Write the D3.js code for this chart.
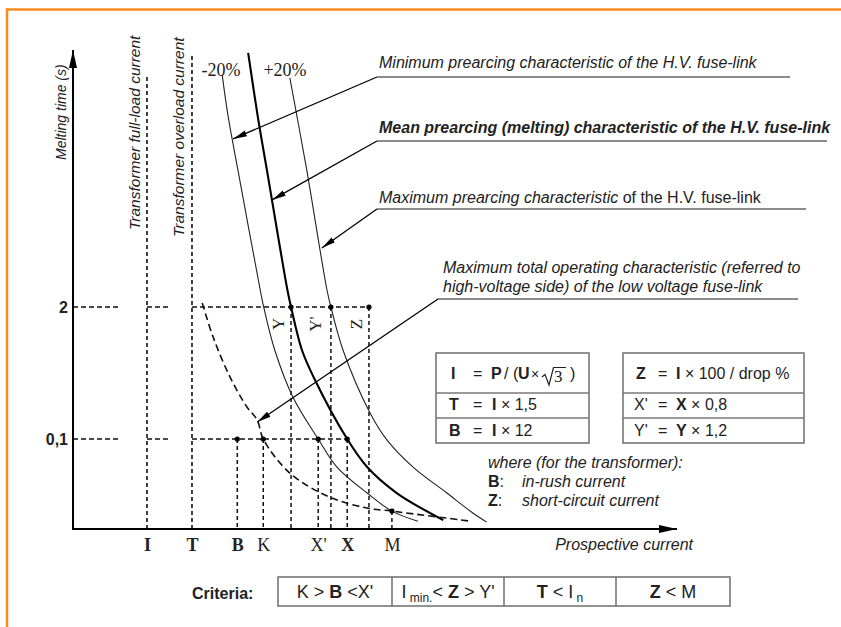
<!DOCTYPE html>
<html>
<head>
<meta charset="utf-8">
<script src="https://cdn.jsdelivr.net/npm/d3@7"></script>
<style>
  html, body { margin: 0; padding: 0; background: #fff; }
  svg { display: block; }
  text { font-family: "Liberation Sans", Arial, sans-serif; fill: #222; }
  .serif { font-family: "Liberation Serif", "Times New Roman", serif; }
</style>
</head>
<body>
<svg id="chart" width="841" height="627"></svg>
<script>
// ---------------- data ----------------
// Prospective current (relative units) of the marked points on the current axis
const currentLabels = ["I", "T", "B", "K", "X'", "X", "M"];
const currentValues = [12.25, 19.7, 27.2, 31.5, 40.6, 45.4, 52.8];
const currentBold   = [true, true, true, false, false, true, false];

// Melting-time ticks (seconds)
const timeTicks      = [2, 0.1];
const timeTickLabels = ["2", "0,1"];

// Currents read at 2 s
const yCurrent = 36.1, yPrimeCurrent = 42.7, zCurrent = 49.0;
// Time at which the LV characteristic crosses the minimum prearcing curve (point M)
const mTime = 0.0195;

// Minimum prearcing characteristic (-20 %)
const minCurrent = [24.7, 25.7, 27.3, 31.0, 31.5, 33.4, 36.4, 40.6, 43.7, 48.7, 52.8, 57.1];
const minTime    = [387, 149, 44.8, 2.94, 2.09, 0.754, 0.26, 0.1, 0.053, 0.0294, 0.0195, 0.0155];

// Mean prearcing (melting) characteristic
const meanCurrent = [29.0, 30.6, 32.1, 35.5, 36.1, 37.9, 39.9, 45.4, 48.7, 53.6, 61.3];
const meanTime    = [637, 149, 44.8, 2.94, 2, 0.754, 0.40, 0.1, 0.053, 0.0294, 0.0159];

// Maximum prearcing characteristic (+20 %)
const maxCurrent = [35.9, 37.1, 38.7, 42.05, 42.7, 44.7, 49.2, 52.0, 56.3, 61.9, 66.2, 68.5];
const maxTime    = [361, 149, 44.8, 2.94, 2, 0.754, 0.18, 0.0977, 0.053, 0.0294, 0.0187, 0.0152];

// Maximum total operating characteristic of the LV fuse-link (referred to HV side)
const lvCurrent = [21.4, 23.2, 26.0, 28.8, 30.5, 31.5, 35.9, 42.5, 48.7, 52.8, 65.7];
const lvTime    = [2.19, 1.01, 0.408, 0.207, 0.154, 0.1, 0.0462, 0.0268, 0.0209, 0.0195, 0.01555];

// ---------------- setup ----------------
const W = 841, H = 627;
const svg = d3.select("#chart");

const x = d3.scaleLinear().domain([0, 100]).range([73, 677]);
const y = d3.scaleLog().domain([0.013, 680]).range([529, 50]);

const zip = (a, b) => a.map((v, i) => [v, b[i]]);
const cur = lbl => currentValues[currentLabels.indexOf(lbl)];

const defs = svg.append("defs");
defs.append("marker")
  .attr("id", "axisHead").attr("viewBox", "0 -5 18 10")
  .attr("refX", 18).attr("refY", 0)
  .attr("markerWidth", 18).attr("markerHeight", 10)
  .attr("markerUnits", "userSpaceOnUse").attr("orient", "auto")
  .append("path").attr("d", "M0,-4L18,0L0,4Z").attr("fill", "#000");
defs.append("marker")
  .attr("id", "leaderHead").attr("viewBox", "0 -4 14 8")
  .attr("refX", 14).attr("refY", 0)
  .attr("markerWidth", 14).attr("markerHeight", 8)
  .attr("markerUnits", "userSpaceOnUse").attr("orient", "auto")
  .append("path").attr("d", "M0,-3L14,0L0,3Z").attr("fill", "#000");

// page frame
svg.append("line").attr("x1", 7).attr("y1", 9.5).attr("x2", W).attr("y2", 9.5)
  .attr("stroke", "#f98a1f").attr("stroke-width", 2.5);
svg.append("line").attr("x1", 7).attr("y1", 8.3).attr("x2", 7).attr("y2", H)
  .attr("stroke", "#f98a1f").attr("stroke-width", 2.5);

// ---------------- reference (dashed) lines ----------------
const guide = svg.append("g").attr("fill", "none").attr("stroke", "#111");

// full-height lines at I and T
guide.append("line").attr("x1", x(cur("I"))).attr("x2", x(cur("I")))
  .attr("y1", y(0.013)).attr("y2", y(369))
  .attr("stroke-width", 1.6).attr("stroke-dasharray", "4,3");
guide.append("line").attr("x1", x(cur("T"))).attr("x2", x(cur("T")))
  .attr("y1", y(0.013)).attr("y2", y(635))
  .attr("stroke-width", 1.6).attr("stroke-dasharray", "4,3");

// horizontal lines at 2 s and 0,1 s (broken before I and T)
function hLine(t, xEnd) {
  const segs = [[0, 7.8], [cur("I"), cur("I") + 3.5], [cur("T"), xEnd]];
  segs.forEach(s => guide.append("line")
    .attr("x1", x(s[0])).attr("x2", x(s[1])).attr("y1", y(t)).attr("y2", y(t))
    .attr("stroke-width", 1.5).attr("stroke-dasharray", "5,3"));
}
hLine(2, zCurrent);
hLine(0.1, cur("X"));

// verticals dropping from the marked points
const drops = [
  [cur("B"), 0.1], [cur("K"), 0.1], [cur("X'"), 0.1], [cur("X"), 0.1],
  [yCurrent, 2], [yPrimeCurrent, 2], [zCurrent, 2], [cur("M"), mTime]
];
drops.forEach(d => guide.append("line")
  .attr("x1", x(d[0])).attr("x2", x(d[0])).attr("y1", y(d[1])).attr("y2", y(0.013))
  .attr("stroke-width", 1.5).attr("stroke-dasharray", "4,3"));

// ---------------- characteristics ----------------
const line = d3.line().x(d => x(d[0])).y(d => y(d[1])).curve(d3.curveCatmullRom.alpha(0.5));
const curves = svg.append("g").attr("fill", "none");
curves.append("path").attr("d", line(zip(minCurrent, minTime))).attr("stroke", "#222").attr("stroke-width", 1.1);
curves.append("path").attr("d", line(zip(maxCurrent, maxTime))).attr("stroke", "#222").attr("stroke-width", 1.1);
curves.append("path").attr("d", line(zip(meanCurrent, meanTime))).attr("stroke", "#000").attr("stroke-width", 2.1);
curves.append("path").attr("d", line(zip(lvCurrent, lvTime))).attr("stroke", "#111")
  .attr("stroke-width", 1.6).attr("stroke-dasharray", "7,4");

// marked points
svg.append("g").selectAll("circle").data(drops).join("circle")
  .attr("cx", d => x(d[0])).attr("cy", d => y(d[1])).attr("r", 2.6).attr("fill", "#000");

// ---------------- axes ----------------
svg.append("line").attr("x1", x(0)).attr("x2", x(0)).attr("y1", y(0.013)).attr("y2", y(680))
  .attr("stroke", "#000").attr("stroke-width", 2).attr("marker-end", "url(#axisHead)");
svg.append("line").attr("x1", x(0) - 1).attr("x2", x(100)).attr("y1", y(0.013)).attr("y2", y(0.013))
  .attr("stroke", "#000").attr("stroke-width", 2.2).attr("marker-end", "url(#axisHead)");

const yAxis = svg.append("g").attr("transform", `translate(${x(0)},0)`)
  .call(d3.axisLeft(y).tickValues(timeTicks).tickSize(0).tickPadding(5)
    .tickFormat((d, i) => timeTickLabels[i]));
yAxis.select(".domain").remove();
yAxis.selectAll("text").attr("font-size", 16).attr("font-weight", "bold")
  .attr("font-family", "Liberation Sans, Arial, sans-serif").attr("fill", "#222");

const xAxis = svg.append("g").attr("transform", `translate(0,${y(0.013)})`)
  .call(d3.axisBottom(x).tickValues(currentValues).tickSize(0).tickPadding(9.5)
    .tickFormat((d, i) => currentLabels[i]));
xAxis.select(".domain").remove();
xAxis.selectAll("text").attr("class", "serif").attr("font-size", 18)
  .attr("font-family", "Liberation Serif, Times New Roman, serif").attr("fill", "#222")
  .attr("font-weight", (d, i) => currentBold[i] ? "bold" : "normal");

// axis titles
svg.append("text").attr("transform", "translate(66,160) rotate(-90)")
  .attr("font-size", 14).attr("font-style", "italic").text("Melting time (s)");
svg.append("text").attr("transform", "translate(693,550)").attr("text-anchor", "end")
  .attr("font-size", 16).attr("font-style", "italic").text("Prospective current");

// labels of the I and T lines
svg.append("text").attr("transform", "translate(140,230) rotate(-90)")
  .attr("font-size", 15.5).attr("font-style", "italic").text("Transformer full-load current");
svg.append("text").attr("transform", "translate(184,237) rotate(-90)")
  .attr("font-size", 15.5).attr("font-style", "italic").text("Transformer overload current");

// tolerance band labels
svg.append("text").attr("class", "serif").attr("x", 221).attr("y", 76).attr("text-anchor", "middle")
  .attr("font-size", 18).text("-20%");
svg.append("text").attr("class", "serif").attr("x", 285).attr("y", 76).attr("text-anchor", "middle")
  .attr("font-size", 18).text("+20%");

// labels next to the 2 s drops
[["Y", yCurrent], ["Y'", yPrimeCurrent], ["Z", zCurrent]].forEach(([t, c], i) => {
  svg.append("text").attr("class", "serif")
    .attr("transform", `translate(${x(c) - (i === 1 ? 10 : 7)},${y(2) + 17}) rotate(-90)`)
    .attr("text-anchor", "middle").attr("font-size", 17).attr("fill", "#111").text(t);
});

// ---------------- annotations with leaders ----------------
const notes = [
  { tip: [26.5, 90.5], sx: 377, sy: 77, ex: 790 },
  { tip: [32.95, 22.7], sx: 377, sy: 141, ex: 827 },
  { tip: [41.2, 7.63], sx: 377, sy: 209, ex: 806 },
  { tip: [30.5, 0.147], sx: 438, sy: 299, ex: 798 }
];
notes.forEach(n => {
  svg.append("line").attr("x1", n.sx).attr("y1", n.sy).attr("x2", n.ex).attr("y2", n.sy)
    .attr("stroke", "#666").attr("stroke-width", 1.3);
  svg.append("line").attr("x1", n.sx).attr("y1", n.sy)
    .attr("x2", x(n.tip[0])).attr("y2", y(n.tip[1]))
    .attr("stroke", "#000").attr("stroke-width", 1.3).attr("marker-end", "url(#leaderHead)");
});
svg.append("text").attr("x", 379).attr("y", 68).attr("font-size", 16).attr("font-style", "italic")
  .text("Minimum prearcing characteristic of the H.V. fuse-link");
svg.append("text").attr("x", 379).attr("y", 133).attr("font-size", 16).attr("font-style", "italic")
  .attr("font-weight", "bold").text("Mean prearcing (melting) characteristic of the H.V. fuse-link");
const maxT = svg.append("text").attr("x", 379).attr("y", 203).attr("font-size", 16);
maxT.append("tspan").attr("font-style", "italic").text("Maximum prearcing characteristic");
maxT.append("tspan").text(" of the H.V. fuse-link");
svg.append("text").attr("x", 443).attr("y", 273).attr("font-size", 16).attr("font-style", "italic")
  .text("Maximum total operating characteristic (referred to");
svg.append("text").attr("x", 443).attr("y", 292).attr("font-size", 16).attr("font-style", "italic")
  .text("high-voltage side) of the low voltage fuse-link");

// ---------------- formula tables ----------------
function table(x0, x1, rowsY) {
  const g = svg.append("g").attr("fill", "none").attr("stroke", "#777").attr("stroke-width", 1.6);
  g.append("rect").attr("x", x0).attr("y", rowsY[0]).attr("width", x1 - x0)
    .attr("height", rowsY[rowsY.length - 1] - rowsY[0]);
  rowsY.slice(1, -1).forEach(r => g.append("line").attr("x1", x0).attr("x2", x1).attr("y1", r).attr("y2", r));
}
table(436, 589, [353, 393, 418, 443]);
table(623, 804, [353, 393, 418, 443]);

function runs(xs, yb, parts, size) {
  const t = svg.append("text").attr("x", xs).attr("y", yb).attr("font-size", size || 16)
    .style("white-space", "pre");
  parts.forEach(p => {
    const s = t.append("tspan").text(p.t);
    if (p.b) s.attr("font-weight", "bold");
    if (p.i) s.attr("font-style", "italic");
    if (p.x !== undefined) s.attr("x", p.x);
    if (p.dy) s.attr("dy", p.dy);
    if (p.fs) s.attr("font-size", p.fs);
    if (p.f) s.attr("font-family", p.f);
  });
  return t;
}
// left table
runs(451, 379, [{ t: "I", b: 1 }, { t: "=", x: 473 }, { t: "P", b: 1, x: 491 }, { t: "/", x: 504 },
  { t: "(", x: 513 }, { t: "U", b: 1, x: 518 }, { t: "\u00d7", x: 531, fs: 14 }]);
// square root of 3
svg.append("path").attr("d", "M542,377 L545,374.5 L549,385 L553.5,367.5 L566,367.5")
  .attr("fill", "none").attr("stroke", "#222").attr("stroke-width", 1.2);
svg.append("text").attr("class", "serif").attr("x", 554).attr("y", 382).attr("font-size", 17).text("3");
svg.append("text").attr("x", 570).attr("y", 379).attr("font-size", 16).text(")");
runs(449, 410, [{ t: "T", b: 1 }, { t: "=", x: 473 }, { t: "I", b: 1, x: 492 }, { t: " \u00d7 1,5" }]);
runs(449, 436, [{ t: "B", b: 1 }, { t: "=", x: 473 }, { t: "I", b: 1, x: 492 }, { t: " \u00d7 12" }]);
// right table
runs(636, 379, [{ t: "Z", b: 1 }, { t: "=", x: 658 }, { t: "I", b: 1, x: 676 }, { t: " \u00d7 100 / drop %" }]);
runs(634, 410, [{ t: "X'" }, { t: "=", x: 658 }, { t: "X", b: 1, x: 676 }, { t: " \u00d7 0,8" }]);
runs(634, 436, [{ t: "Y'" }, { t: "=", x: 658 }, { t: "Y", b: 1, x: 676 }, { t: " \u00d7 1,2" }]);

// legend for B and Z
runs(488, 468, [{ t: "where (for the transformer):", i: 1 }]);
runs(488, 487, [{ t: "B", b: 1 }, { t: ":" }, { t: "in-rush current", i: 1, x: 522 }]);
runs(488, 506, [{ t: "Z", b: 1 }, { t: ":" }, { t: "short-circuit current", i: 1, x: 522 }]);

// ---------------- criteria ----------------
runs(192, 599, [{ t: "Criteria:", b: 1 }], 16);
const critX = [278, 392, 504, 616, 730];
const cg = svg.append("g").attr("fill", "none").attr("stroke", "#777").attr("stroke-width", 1.6);
cg.append("rect").attr("x", critX[0]).attr("y", 577).attr("width", critX[4] - critX[0]).attr("height", 29);
critX.slice(1, -1).forEach(cx => cg.append("line").attr("x1", cx).attr("x2", cx).attr("y1", 577).attr("y2", 606));

const critCells = [
  [{ t: "K > " }, { t: "B", b: 1 }, { t: " <X'" }],
  [{ t: "I" }, { t: " min.", fs: 12, dy: 4 }, { t: "< ", dy: -4 }, { t: "Z", b: 1 }, { t: " > Y'" }],
  [{ t: "T", b: 1 }, { t: " < I" }, { t: " n", fs: 12, dy: 4 }],
  [{ t: "Z", b: 1 }, { t: " < M" }]
];
critCells.forEach((parts, i) => {
  const t = runs((critX[i] + critX[i + 1]) / 2, 598, parts, 18);
  t.attr("text-anchor", "middle");
});
</script>
</body>
</html>
